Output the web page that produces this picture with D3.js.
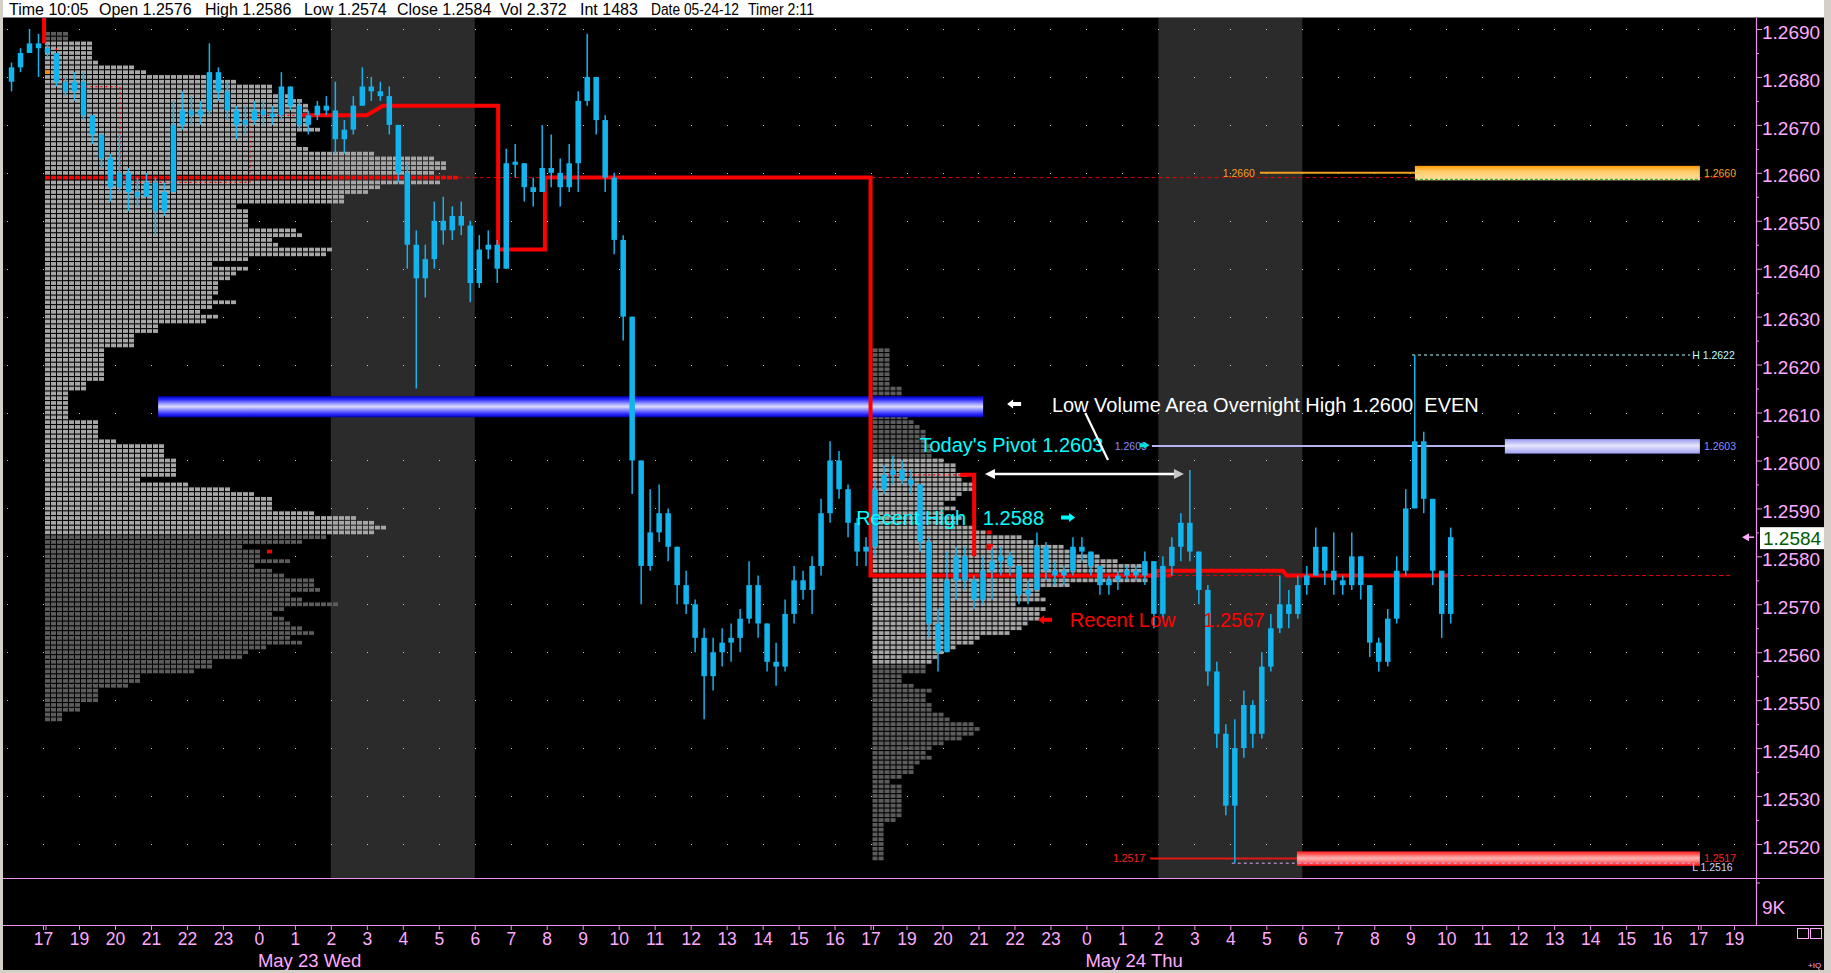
<!DOCTYPE html>
<html>
<head>
<meta charset="utf-8">
<title>Euro FX profile chart</title>
<script src="https://cdn.jsdelivr.net/npm/d3@7/dist/d3.min.js"></script>
<style>
  html, body { margin: 0; padding: 0; background: #000; overflow: hidden; }
  svg { display: block; }
  text { font-family: "Liberation Sans", Arial, sans-serif; }
</style>
</head>
<body>
<svg id="chart" width="1831" height="973"></svg>
<script>
// ===================== DATA =====================
// hour labels, one per time slot (slot 0 = 17:00 May 22 session open)
const hourLabels = ["17","19","20","21","22","23","0","1","2","3","4","5","6","7","8","9","10","11","12","13","14","15","16",
                    "17","19","20","21","22","23","0","1","2","3","4","5","6","7","8","9","10","11","12","13","14","15","16",
                    "17","19"];
const sessionBreakSlots = [0, 23, 46];
const dateLabelSlots = [6, 29];
const dateLabels = ["May 23 Wed", "May 24 Thu"];
const shadedSessions = [[8, 12], [31, 35]];          // 02:00 - 06:00 each day
const priceTicks = [1.2520,1.2530,1.2540,1.2550,1.2560,1.2570,1.2580,1.2590,1.2600,
                    1.2610,1.2620,1.2630,1.2640,1.2650,1.2660,1.2670,1.2680,1.2690];
const headerFields = ["Time 10:05", "Open 1.2576", "High 1.2586", "Low 1.2574", "Close 1.2584",
                      "Vol 2.372", "Int 1483", "Date 05-24-12", "Timer 2:11"];
const lastPrice = 1.2584;

// 15-minute price bars
const barStartSlot = -1, barSlotStep = 0.25, barFirstOpen = 1.2679;
const barHigh = [
 1.2683,1.2686,1.2690,1.2689,1.2687,1.2685,1.2680,1.2681,1.2681,1.2672,
 1.2668,1.2664,1.2668,1.2661,1.2659,1.2660,1.2659,1.2658,1.2675,1.2677,
 1.2676,1.2675,1.2687,1.2682,1.2679,1.2674,1.2674,1.2675,1.2675,1.2674,
 1.2681,1.2678,1.2675,1.2673,1.2675,1.2676,1.2679,1.2671,1.2676,1.2682,
 1.2680,1.2679,1.2678,1.2670,1.2662,1.2648,1.2645,1.2654,1.2655,1.2653,
 1.2654,1.2650,1.2647,1.2648,1.2646,1.2665,1.2666,1.2662,1.2659,1.2670,
 1.2668,1.2663,1.2666,1.2677,1.2689,1.2680,1.2672,1.2660,1.2647,1.2630,
 1.2600,1.2594,1.2595,1.2590,1.2582,1.2577,1.2571,1.2565,1.2563,1.2565,
 1.2566,1.2569,1.2579,1.2576,1.2566,1.2562,1.2571,1.2578,1.2577,1.2580,
 1.2592,1.2604,1.2602,1.2595,1.2588,1.2584,1.2596,1.2599,1.2601,1.2600,
 1.2598,1.2595,1.2584,1.2569,1.2581,1.2582,1.2582,1.2576,1.2580,1.2582,
 1.2582,1.2581,1.2578,1.2575,1.2585,1.2583,1.2579,1.2578,1.2584,1.2584,
 1.2581,1.2578,1.2576,1.2577,1.2578,1.2578,1.2581,1.2579,1.2580,1.2584,
 1.2589,1.2598,1.2581,1.2574,1.2558,1.2545,1.2546,1.2552,1.2550,1.2560,
 1.2568,1.2576,1.2573,1.2576,1.2578,1.2586,1.2582,1.2585,1.2576,1.2585,
 1.2580,1.2574,1.2563,1.2569,1.2580,1.2594,1.2622,1.2606,1.2592,1.2577,
 1.2586];
const barLow = [
 1.2677,1.2681,1.2685,1.2680,1.2684,1.2678,1.2676,1.2675,1.2671,1.2666,
 1.2661,1.2654,1.2656,1.2652,1.2653,1.2655,1.2647,1.2651,1.2656,1.2669,
 1.2670,1.2670,1.2672,1.2675,1.2671,1.2667,1.2668,1.2670,1.2670,1.2670,
 1.2671,1.2673,1.2669,1.2668,1.2671,1.2672,1.2664,1.2664,1.2668,1.2674,
 1.2675,1.2675,1.2668,1.2658,1.2640,1.2615,1.2634,1.2640,1.2645,1.2646,
 1.2647,1.2633,1.2636,1.2642,1.2637,1.2640,1.2659,1.2654,1.2653,1.2656,
 1.2657,1.2653,1.2656,1.2656,1.2674,1.2668,1.2656,1.2643,1.2625,1.2593,
 1.2570,1.2577,1.2583,1.2579,1.2570,1.2568,1.2560,1.2546,1.2552,1.2557,
 1.2558,1.2560,1.2566,1.2563,1.2556,1.2553,1.2556,1.2566,1.2571,1.2568,
 1.2576,1.2587,1.2592,1.2584,1.2578,1.2578,1.2580,1.2593,1.2595,1.2595,
 1.2593,1.2581,1.2563,1.2556,1.2560,1.2571,1.2573,1.2569,1.2570,1.2571,
 1.2576,1.2576,1.2570,1.2570,1.2573,1.2575,1.2574,1.2574,1.2576,1.2579,
 1.2576,1.2572,1.2572,1.2573,1.2575,1.2575,1.2574,1.2565,1.2567,1.2576,
 1.2579,1.2579,1.2570,1.2553,1.2540,1.2526,1.2516,1.2538,1.2540,1.2542,
 1.2556,1.2564,1.2565,1.2567,1.2572,1.2576,1.2574,1.2572,1.2572,1.2573,
 1.2571,1.2559,1.2556,1.2557,1.2566,1.2576,1.2590,1.2589,1.2574,1.2563,
 1.2566];
const barClose = [
 1.2682,1.2685,1.2687,1.2686,1.2685,1.2679,1.2677,1.2679,1.2672,1.2668,
 1.2663,1.2657,1.2660,1.2656,1.2655,1.2658,1.2652,1.2656,1.2670,1.2673,
 1.2672,1.2673,1.2681,1.2677,1.2673,1.2670,1.2671,1.2673,1.2672,1.2672,
 1.2678,1.2674,1.2670,1.2672,1.2674,1.2673,1.2667,1.2669,1.2674,1.2678,
 1.2677,1.2676,1.2670,1.2660,1.2645,1.2638,1.2642,1.2650,1.2648,1.2651,
 1.2649,1.2637,1.2644,1.2645,1.2640,1.2662,1.2662,1.2657,1.2656,1.2661,
 1.2660,1.2657,1.2662,1.2675,1.2680,1.2671,1.2659,1.2646,1.2630,1.2600,
 1.2578,1.2585,1.2589,1.2582,1.2574,1.2570,1.2563,1.2555,1.2560,1.2562,
 1.2563,1.2567,1.2574,1.2566,1.2558,1.2557,1.2568,1.2575,1.2573,1.2578,
 1.2589,1.2600,1.2594,1.2587,1.2581,1.2582,1.2594,1.2597,1.2598,1.2596,
 1.2595,1.2583,1.2566,1.2560,1.2575,1.2580,1.2575,1.2571,1.2577,1.2579,
 1.2580,1.2578,1.2572,1.2573,1.2582,1.2577,1.2576,1.2577,1.2582,1.2581,
 1.2578,1.2574,1.2575,1.2576,1.2577,1.2576,1.2579,1.2568,1.2578,1.2582,
 1.2587,1.2581,1.2573,1.2556,1.2543,1.2528,1.2540,1.2549,1.2543,1.2557,
 1.2565,1.2570,1.2568,1.2574,1.2576,1.2582,1.2577,1.2575,1.2574,1.2580,
 1.2574,1.2562,1.2558,1.2567,1.2577,1.2590,1.2604,1.2592,1.2577,1.2568,
 1.2584];

// Volume profile A (May 23 session) - cells per price row, from top row down
const profileATop = 1.2689, profileASlot = 0, profileAPoc = 1.2659;
const profileAValueArea = [1.2585, 1.2687];
const profileACounts = [
 4,4,8,8,8,8,9,15,17,27,
 32,38,38,41,43,44,44,44,44,44,
 46,42,42,42,44,55,65,67,67,65,
 69,66,56,54,50,50,32,34,34,34,
 34,42,43,38,39,48,47,34,28,34,
 32,31,29,29,29,28,32,28,26,29,
 27,19,19,15,15,15,10,10,10,10,
 10,10,10,7,7,4,4,4,4,4,
 4,9,9,9,9,12,20,20,20,22,
 22,22,22,16,24,31,35,38,38,38,
 45,52,55,57,55,47,43,33,36,36,
 41,35,38,40,45,45,46,41,43,49,
 40,38,40,41,43,45,41,43,37,34,
 33,28,28,25,16,16,14,9,9,9,
 6,6,3,3];
const profileAOpenMark = [1.2681, 0], profileACloseMark = [1.2581, 37];

// Volume profile B (May 24 session)
const profileBTop = 1.2623, profileBSlot = 23, profileBPoc = 1.2576;
const profileBValueArea = [1.2558, 1.2600];
const profileBCounts = [
 3,3,3,3,3,3,3,3,5,5,
 5,5,5,6,6,7,8,9,9,9,
 10,10,10,12,14,14,16,15,17,17,
 15,14,12,14,12,15,14,17,19,25,
 27,32,34,38,41,45,45,50,46,33,
 28,28,29,24,29,28,28,26,25,23,
 18,17,14,12,11,10,9,9,5,5,
 7,10,9,9,10,10,12,13,17,18,
 17,15,12,10,9,10,8,7,7,5,
 3,5,5,5,5,5,5,5,4,2,
 2,2,2,2,2,2,2];
const profileBCloseMark = [1.2585, 19];

// developing point of control [slot, price]
const pocThick = [[7.14,1.2672],[9.0,1.2672],[9.45,1.2674],[12.65,1.2674],[12.65,1.2644],[13.95,1.2644],
                  [13.95,1.2659],[23.0,1.2659],[23.0,1.2576],[30.9,1.2576],[30.96,1.2577],[34.46,1.2577],
                  [34.57,1.2576],[39.19,1.2576]];
const pocEarlyThin = [[0.37,1.2686],[0.37,1.2680],[0.94,1.2678],[2.14,1.2678],[2.14,1.2658],[5.75,1.2658],[5.75,1.2672],[7.14,1.2672]];
const pocPrevThick = [[0.03,1.2694],[0.03,1.2687]];
const recentPocThin = [[23.35,1.2597],[25.49,1.2597]];
const recentPocThick = [[25.49,1.2597],[25.88,1.2597],[25.88,1.2580]];
const recentMark = [26.31, 1.2582];
const pocExtensions = [[[11.55,1.2659],[46.97,1.2659]], [[30.96,1.2576],[34.46,1.2576]], [[39.19,1.2576],[46.97,1.2576]]];

// reference levels
const lvnZone = {price: 1.2611, from: 3.2, to: 26.13};
const orangeLevel = {price: 1.2660, lineFrom: 33.82, bandFrom: 38.13, to: 46.05, label: "1.2660"};
const pivotLevel  = {price: 1.2603, lineFrom: 30.82, bandFrom: 40.63, to: 46.05, label: "1.2603"};
const redLevel    = {price: 1.2517, lineFrom: 30.77, bandFrom: 34.85, to: 46.05, label: "1.2517"};
const highLevel   = {price: 1.2622, from: 38.05, to: 45.78, label: "H 1.2622"};
const lowLevel    = {price: 1.2516, from: 33.04, to: 45.78, label: "L 1.2516"};

// annotations [slot, price]
const noteTexts  = ["Low Volume Area Overnight High 1.2600  EVEN", "Today's Pivot 1.2603", "Recent High   1.2588", "Recent Low     1.2567"];
const noteSlots  = [28.04, 24.36, 22.60, 28.54];
const notePrices = [1.26101, 1.26018, 1.25865, 1.25653];

// ===================== LAYOUT =====================
const svg = d3.select("#chart");
const P = {left: 3, right: 1756, top: 18, bottom: 878, volBottom: 925};
const x = d3.scaleLinear().domain([0, 47]).range([43, 43 + 47 * 35.98]);
const y = d3.scaleLinear().domain([1.2520, 1.2690]).range([844, 29]);
const cellX = d3.scaleLinear().domain([0, 1]).range([0, 6]);
const PIP = 0.0001;
const PINK = "#ffaaff", PINKLINE = "#ee90ee", CYAN = "#12b4ee";

svg.append("rect").attr("width", 1831).attr("height", 973).attr("fill", "#000");

const defs = svg.append("defs");
defs.append("clipPath").attr("id", "panel").append("rect")
  .attr("x", P.left).attr("y", P.top).attr("width", P.right - P.left).attr("height", P.bottom - P.top);
function vGrad(id, stops) {
  const g = defs.append("linearGradient").attr("id", id).attr("x1", 0).attr("x2", 0).attr("y1", 0).attr("y2", 1);
  stops.forEach(([o, c]) => g.append("stop").attr("offset", o).attr("stop-color", c));
}
vGrad("gBlue", [[0, "#0000b8"], [0.15, "#2a2aff"], [0.38, "#a8a8ff"], [0.5, "#dcdcff"], [0.62, "#9a9aff"], [0.85, "#2a2aff"], [1, "#0000b8"]]);
vGrad("gPivot", [[0, "#9a9af0"], [0.45, "#e6e6ff"], [1, "#a0a0f0"]]);
vGrad("gOrange", [[0, "#ff9800"], [0.35, "#ffc860"], [1, "#ffe2a8"]]);
vGrad("gRed", [[0, "#ff1818"], [0.45, "#ffb0b0"], [0.6, "#ff9a9a"], [1, "#ff1010"]]);

const plot = svg.append("g").attr("clip-path", "url(#panel)");

// session shading
plot.selectAll(".shade").data(shadedSessions).join("rect")
  .attr("x", d => x(d[0])).attr("width", d => x(d[1]) - x(d[0]))
  .attr("y", P.top).attr("height", P.bottom - P.top).attr("fill", "#2b2b2b");

// dotted grid
const dotData = [];
d3.range(-1, 48).forEach(s => priceTicks.forEach(p => dotData.push([s, p])));
plot.append("g").selectAll("rect").data(dotData).join("rect")
  .attr("x", d => Math.round(x(d[0]))).attr("y", d => Math.round(y(d[1])))
  .attr("width", 1).attr("height", 1).attr("fill", "#c8c8c8");

// volume profiles
function drawProfile(top, counts, slot, poc, va, marks) {
  const x0 = x(slot) + 2;
  const cells = [];
  counts.forEach((n, j) => {
    const p = +(top - j * PIP).toFixed(4);
    for (let k = 0; k < n; k++) {
      let fill = (p >= va[0] && p <= va[1]) ? "#a6a6a6" : "#5c5c5c";
      if (Math.abs(p - poc) < 1e-6) fill = "#ff0000";
      cells.push({p, k, fill});
    }
  });
  marks.forEach(m => cells.push({p: m[0], k: m[1], fill: m[2]}));
  plot.append("g").selectAll("rect").data(cells).join("rect")
    .attr("x", d => x0 + cellX(d.k)).attr("y", d => y(d.p) - 1.85)
    .attr("width", 5).attr("height", 3.7).attr("fill", d => d.fill);
}
drawProfile(profileATop, profileACounts, profileASlot, profileAPoc, profileAValueArea,
            [[...profileAOpenMark, "#ff8a00"], [...profileACloseMark, "#ff0000"]]);
drawProfile(profileBTop, profileBCounts, profileBSlot, profileBPoc, profileBValueArea,
            [[...profileBCloseMark, "#ff0000"]]);

const line = d3.line().x(d => x(d[0])).y(d => y(d[1]));

// dashed POC extensions
plot.selectAll(".ext").data(pocExtensions).join("path")
  .attr("d", line).attr("fill", "none").attr("stroke", "#e00000").attr("stroke-width", 1).attr("stroke-dasharray", "4,3");

// LVN band
plot.append("rect").attr("x", x(lvnZone.from)).attr("width", x(lvnZone.to) - x(lvnZone.from))
  .attr("y", y(lvnZone.price) - 11.5).attr("height", 21).attr("fill", "url(#gBlue)");

// level lines + bands
function levelBand(L, grad, lineColor, labelColor) {
  plot.append("line").attr("x1", x(L.lineFrom)).attr("x2", x(L.bandFrom))
    .attr("y1", y(L.price)).attr("y2", y(L.price)).attr("stroke", lineColor).attr("stroke-width", 2);
  plot.append("rect").attr("x", x(L.bandFrom)).attr("width", x(L.to) - x(L.bandFrom))
    .attr("y", y(L.price) - 7).attr("height", 14.5).attr("fill", `url(#${grad})`);
  svg.append("text").attr("x", x(L.lineFrom) - 5).attr("y", y(L.price) + 4)
    .attr("text-anchor", "end").attr("font-family", "DejaVu Sans").attr("font-size", 10.5)
    .attr("fill", labelColor).text(L.label);
  svg.append("text").attr("x", x(L.to) + 4).attr("y", y(L.price) + 4)
    .attr("font-family", "DejaVu Sans").attr("font-size", 10.5).attr("fill", labelColor).text(L.label);
}
levelBand(orangeLevel, "gOrange", "#f0a020", "#f0a020");
plot.append("line").attr("x1", x(orangeLevel.bandFrom)).attr("x2", x(orangeLevel.to))
  .attr("y1", y(orangeLevel.price) + 6.5).attr("y2", y(orangeLevel.price) + 6.5)
  .attr("stroke", "#10a010").attr("stroke-width", 1).attr("stroke-dasharray", "3,2");
levelBand(pivotLevel, "gPivot", "#b4b4f4", "#8c8cff");
levelBand(redLevel, "gRed", "#e01818", "#ff2020");

// session high / low dashed lines
[[highLevel, "#b8ffff"], [lowLevel, "#d8a8f0"]].forEach(([L, c]) => {
  plot.append("line").attr("x1", x(L.from)).attr("x2", x(L.to)).attr("y1", y(L.price)).attr("y2", y(L.price))
    .attr("stroke", c).attr("stroke-width", 1).attr("stroke-dasharray", "3,3");
});
svg.append("text").attr("x", x(highLevel.to) + 2).attr("y", y(highLevel.price) + 4)
  .attr("font-family", "DejaVu Sans").attr("font-size", 10.5).attr("fill", "#b8ffff").attr("style", "white-space:pre").text(highLevel.label);
svg.append("text").attr("x", x(lowLevel.to) + 2).attr("y", y(lowLevel.price) + 8)
  .attr("font-family", "DejaVu Sans").attr("font-size", 10.5).attr("fill", "#c8d8ff").attr("style", "white-space:pre").text(lowLevel.label);

// developing POC lines
plot.append("path").attr("d", line(pocEarlyThin)).attr("fill", "none").attr("stroke", "#ff0000")
  .attr("stroke-width", 1.2).attr("stroke-dasharray", "2,3");
plot.append("path").attr("d", line(recentPocThin)).attr("fill", "none").attr("stroke", "#ff0000")
  .attr("stroke-width", 1.2).attr("stroke-dasharray", "2,3");
[pocPrevThick, pocThick, recentPocThick].forEach(pts => {
  plot.append("path").attr("d", line(pts)).attr("fill", "none").attr("stroke", "#ff0000").attr("stroke-width", 4);
});
plot.append("rect").attr("x", x(recentMark[0]) - 3).attr("y", y(recentMark[1]) - 3).attr("width", 6).attr("height", 6).attr("fill", "#ff0000");

// price bars
const bars = barClose.map((c, i) => {
  const o = i === 0 ? barFirstOpen : barClose[i - 1];
  return {t: barStartSlot + i * barSlotStep, o, c,
          h: Math.max(barHigh[i], o, c), l: Math.min(barLow[i], o, c)};
});
const gBars = plot.append("g");
gBars.selectAll("line").data(bars).join("line")
  .attr("x1", d => x(d.t + barSlotStep / 2)).attr("x2", d => x(d.t + barSlotStep / 2))
  .attr("y1", d => y(d.h)).attr("y2", d => y(d.l)).attr("stroke", CYAN).attr("stroke-width", 1.5);
gBars.selectAll("rect").data(bars).join("rect")
  .attr("x", d => x(d.t + barSlotStep / 2) - 2.75).attr("width", 5.5)
  .attr("y", d => Math.min(y(d.o), y(d.c)) - (Math.abs(y(d.o) - y(d.c)) < 3 ? (3 - Math.abs(y(d.o) - y(d.c))) / 2 : 0))
  .attr("height", d => Math.max(3, Math.abs(y(d.o) - y(d.c)))).attr("fill", CYAN);

// ---------- annotations ----------
function arrow(cx, cy, dir, color, len = 14, hh = 9) {
  const s = dir === "left" ? -1 : 1;
  const tip = cx + s * len / 2, base = tip - s * 6, tail = cx - s * len / 2;
  const pts = [[tip, cy], [base, cy - hh / 2], [base, cy - 2], [tail, cy - 2], [tail, cy + 2], [base, cy + 2], [base, cy + hh / 2]];
  svg.append("polygon").attr("points", pts.map(p => p.join(",")).join(" ")).attr("fill", color);
}
const noteColors = ["#ffffff", "#00ffff", "#00ffff", "#ff0000"];
svg.selectAll(".note").data(noteTexts).join("text")
  .attr("x", (d, i) => x(noteSlots[i])).attr("y", (d, i) => y(notePrices[i]))
  .attr("font-size", 20).attr("fill", (d, i) => noteColors[i]).attr("style", "white-space:pre").text(d => d);

arrow(x(26.99), y(1.26118), "left", "#ffffff");
arrow(x(28.49), y(1.25881), "right", "#00ffff");
arrow(x(27.85), y(1.25668), "left", "#ff0000");
arrow(x(30.62), y(1.26032), "right", "#00e0e0", 10, 7);
// pointer line from text to LVN
svg.append("line").attr("x1", x(28.97)).attr("y1", y(1.26099)).attr("x2", x(29.6)).attr("y2", y(1.26001))
  .attr("stroke", "#ffffff").attr("stroke-width", 2.2);
// double arrow
const daY = y(1.25972), daL = x(26.18), daR = x(31.71);
svg.append("line").attr("x1", daL + 8).attr("x2", daR - 8).attr("y1", daY).attr("y2", daY).attr("stroke", "#ffffff").attr("stroke-width", 2.5);
svg.append("polygon").attr("points", `${daL},${daY} ${daL + 10},${daY - 5} ${daL + 10},${daY + 5}`).attr("fill", "#ffffff");
svg.append("polygon").attr("points", `${daR},${daY} ${daR - 10},${daY - 5} ${daR - 10},${daY + 5}`).attr("fill", "#c8c8c8");

// ---------- axes & frame ----------
[P.bottom, P.volBottom].forEach(yy => svg.append("line").attr("x1", P.left).attr("x2", 1824)
  .attr("y1", yy + 0.5).attr("y2", yy + 0.5).attr("stroke", PINKLINE).attr("stroke-width", 1.2));
svg.append("line").attr("x1", P.right + 0.5).attr("x2", P.right + 0.5).attr("y1", P.top).attr("y2", P.volBottom)
  .attr("stroke", PINKLINE).attr("stroke-width", 1.2);

const yAxis = d3.axisRight(y).tickValues(priceTicks).tickFormat(d3.format(".4f")).tickSize(6).tickPadding(0);
const gy = svg.append("g").attr("transform", `translate(${P.right},0)`).call(yAxis);
gy.select(".domain").remove();
gy.selectAll("line").attr("stroke", PINKLINE);
gy.selectAll("text").attr("fill", PINK).attr("font-size", 19).attr("font-family", "Liberation Sans, Arial").attr("dy", "0.48em").attr("x", 6);
const yMinor = d3.axisRight(y).tickValues(priceTicks.slice(0, -1).map(p => p + 0.0005)).tickFormat("").tickSize(3);
const gym = svg.append("g").attr("transform", `translate(${P.right},0)`).call(yMinor);
gym.select(".domain").remove();
gym.selectAll("line").attr("stroke", PINKLINE);

// volume axis label
svg.append("line").attr("x1", P.right).attr("x2", P.right + 4).attr("y1", 883).attr("y2", 883).attr("stroke", PINKLINE);
svg.append("text").attr("x", P.right + 6).attr("y", 914).attr("font-size", 19).attr("fill", PINK).text("9K");

// last price box
const lpY = y(lastPrice);
svg.append("rect").attr("x", 1760).attr("y", lpY - 10).attr("width", 64).attr("height", 22).attr("fill", "#ffffff");
svg.append("text").attr("x", 1763).attr("y", lpY + 8).attr("font-size", 19).attr("fill", "#005a00").text(d3.format(".4f")(lastPrice));
svg.append("polygon").attr("points", `${P.right - 14},${lpY} ${P.right - 7},${lpY - 4} ${P.right - 7},${lpY + 4}`).attr("fill", PINK);
svg.append("line").attr("x1", P.right - 8).attr("x2", P.right - 2).attr("y1", lpY).attr("y2", lpY).attr("stroke", PINK).attr("stroke-width", 1.5);

// time axis
const xAxis = d3.axisBottom(x).tickValues(d3.range(48)).tickFormat(i => hourLabels[i]).tickSize(4).tickPadding(3);
const gx = svg.append("g").attr("transform", `translate(0,${P.volBottom + 1})`).call(xAxis);
gx.select(".domain").remove();
gx.selectAll("line").attr("stroke", PINKLINE);
gx.selectAll("text").attr("fill", PINK).attr("font-size", 17.5).attr("font-family", "Liberation Sans, Arial");
sessionBreakSlots.forEach(s => svg.append("line").attr("x1", x(s) + 3).attr("x2", x(s) + 3)
  .attr("y1", P.volBottom + 1).attr("y2", P.volBottom + 5).attr("stroke", PINKLINE));
svg.selectAll(".date").data(dateLabels).join("text")
  .attr("x", (d, i) => x(dateLabelSlots[i]) - 1).attr("y", 967)
  .attr("font-size", 18.5).attr("fill", PINK).text(d => d);

// corner widgets
svg.append("rect").attr("x", 1797.5).attr("y", 928.5).attr("width", 11).attr("height", 10).attr("fill", "none").attr("stroke", PINK);
svg.append("rect").attr("x", 1810.5).attr("y", 928.5).attr("width", 11).attr("height", 10).attr("fill", "none").attr("stroke", PINK);
svg.append("text").attr("x", 1808).attr("y", 968).attr("font-size", 8).attr("fill", PINK).text("+IQ");

// header bar and window borders
svg.append("rect").attr("x", P.left).attr("y", 0).attr("width", 1821).attr("height", 17).attr("fill", "#ffffff");
svg.append("line").attr("x1", P.left).attr("x2", 1824).attr("y1", 17.5).attr("y2", 17.5).attr("stroke", "#808080");
const headerStarts = [9, 99, 205, 304, 397, 500, 580, 651, 748];
const headerWidths = [null, null, null, null, null, null, null, 88, 66];
svg.selectAll(".hdr").data(headerFields).join("text")
  .attr("x", (d, i) => headerStarts[i]).attr("y", 14.5)
  .attr("font-size", 16).attr("fill", "#000")
  .each(function (d, i) {
    if (headerWidths[i]) d3.select(this).attr("textLength", headerWidths[i]).attr("lengthAdjust", "spacingAndGlyphs");
  })
  .text(d => d);
svg.append("rect").attr("x", 0).attr("y", 0).attr("width", 3).attr("height", 973).attr("fill", "#d4d0c8");
svg.append("rect").attr("x", 1824).attr("y", 0).attr("width", 7).attr("height", 973).attr("fill", "#d4d0c8");
svg.append("rect").attr("x", 0).attr("y", 970).attr("width", 1831).attr("height", 3).attr("fill", "#d4d0c8");
</script>
</body>
</html>
